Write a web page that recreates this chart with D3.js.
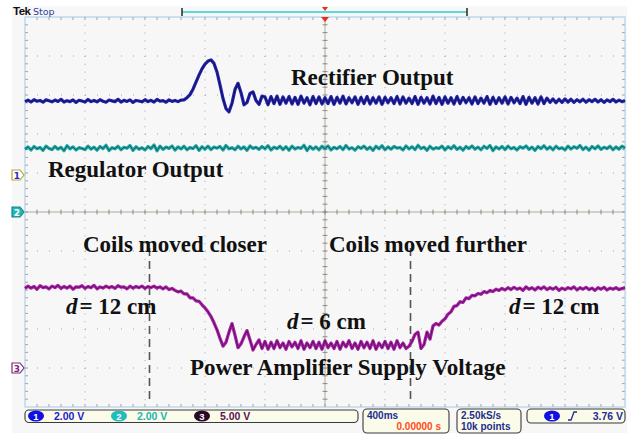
<!DOCTYPE html>
<html>
<head>
<meta charset="utf-8">
<script src="https://cdn.jsdelivr.net/npm/d3@7"></script>
<style>
  html, body { margin: 0; padding: 0; background: #fff; }
  svg { display: block; }
</style>
</head>
<body>
<div id="scope"></div>
<script>

// sweep: 400 ms/div, 10 div, trigger at centre, one sample every 20 ms
const tStart = -2;
const tStep = 0.02;

// channel 1 - rectifier output (V)
const ch1Values = [
    3.66, 3.74, 3.64, 3.76, 3.68, 3.72, 3.63, 3.75, 3.70, 3.65,
    3.74, 3.67, 3.78, 3.64, 3.71, 3.66, 3.75, 3.62, 3.73, 3.69,
    3.64, 3.77, 3.66, 3.72, 3.65, 3.76, 3.68, 3.63, 3.74, 3.70,
    3.66, 3.78, 3.64, 3.73, 3.67, 3.75, 3.62, 3.72, 3.69, 3.65,
    3.76, 3.66, 3.73, 3.64, 3.77, 3.68, 3.71, 3.63, 3.75, 3.67,
    3.72, 3.66, 3.74, 3.75, 3.86, 4.02, 4.30, 4.66, 5.02, 5.34,
    5.58, 5.74, 5.80, 5.62, 5.18, 4.52, 3.82, 3.30, 3.14, 3.58,
    4.28, 4.60, 4.12, 3.50, 3.62, 4.08, 4.16, 3.72, 3.52, 3.94,
    3.90, 3.50, 3.92, 3.56, 3.94, 3.52, 3.90, 3.58, 3.92, 3.54,
    3.88, 3.52, 3.94, 3.58, 3.86, 3.50, 3.92, 3.56, 3.90, 3.54,
    3.86, 3.56, 3.92, 3.52, 3.88, 3.58, 3.94, 3.54, 3.86, 3.60,
    3.90, 3.52, 3.88, 3.56, 3.92, 3.54, 3.86, 3.58, 3.90, 3.52,
    3.88, 3.60, 3.86, 3.56, 3.92, 3.54, 3.90, 3.58, 3.84, 3.56,
    3.92, 3.52, 3.88, 3.58, 3.86, 3.54, 3.94, 3.56, 3.88, 3.52,
    3.90, 3.58, 3.86, 3.54, 3.92, 3.56, 3.88, 3.60, 3.86, 3.54,
    3.90, 3.56, 3.84, 3.58, 3.92, 3.52, 3.88, 3.56, 3.86, 3.58,
    3.90, 3.54, 3.88, 3.60, 3.84, 3.56, 3.92, 3.52, 3.88, 3.58,
    3.86, 3.54, 3.90, 3.56, 3.84, 3.62, 3.80, 3.60, 3.78, 3.62,
    3.80, 3.64, 3.78, 3.62, 3.76, 3.65, 3.78, 3.63, 3.76, 3.66,
    3.78, 3.64, 3.76, 3.62, 3.75, 3.66, 3.78, 3.64, 3.74, 3.66, 3.72
];

// channel 2 - regulator output (V)
const ch2Values = [
    3.22, 3.34, 3.18, 3.36, 3.24, 3.31, 3.16, 3.38, 3.26, 3.20,
    3.36, 3.22, 3.32, 3.14, 3.40, 3.24, 3.34, 3.18, 3.30, 3.26,
    3.20, 3.38, 3.22, 3.33, 3.17, 3.36, 3.25, 3.42, 3.15, 3.30,
    3.24, 3.37, 3.19, 3.32, 3.27, 3.41, 3.16, 3.35, 3.22, 3.30,
    3.18, 3.36, 3.25, 3.44, 3.14, 3.38, 3.21, 3.33, 3.26, 3.39,
    3.17, 3.34, 3.23, 3.37, 3.19, 3.31, 3.25, 3.40, 3.16, 3.35,
    3.22, 3.38, 3.20, 3.33, 3.27, 3.36, 3.18, 3.41, 3.24, 3.30,
    3.19, 3.37, 3.23, 3.34, 3.16, 3.39, 3.26, 3.32, 3.21, 3.36,
    3.24, 3.40, 3.18, 3.33, 3.25, 3.37, 3.20, 3.35, 3.17, 3.38,
    3.23, 3.31, 3.26, 3.42, 3.15, 3.36, 3.22, 3.34, 3.19, 3.37,
    3.25, 3.39, 3.18, 3.32, 3.24, 3.36, 3.20, 3.41, 3.23, 3.30,
    3.17, 3.35, 3.26, 3.38, 3.21, 3.33, 3.16, 3.37, 3.24, 3.40,
    3.19, 3.34, 3.22, 3.36, 3.27, 3.31, 3.18, 3.39, 3.23, 3.35,
    3.20, 3.42, 3.25, 3.33, 3.16, 3.37, 3.22, 3.30, 3.26, 3.38,
    3.18, 3.35, 3.24, 3.40, 3.21, 3.32, 3.17, 3.36, 3.25, 3.39,
    3.22, 3.33, 3.19, 3.37, 3.26, 3.41, 3.15, 3.34, 3.23, 3.36,
    3.20, 3.38, 3.24, 3.31, 3.18, 3.35, 3.27, 3.39, 3.21, 3.33,
    3.16, 3.36, 3.25, 3.40, 3.22, 3.34, 3.19, 3.37, 3.24, 3.30,
    3.18, 3.38, 3.23, 3.35, 3.26, 3.41, 3.20, 3.33, 3.17, 3.36,
    3.24, 3.39, 3.21, 3.32, 3.25, 3.37, 3.19, 3.34, 3.22, 3.38, 3.28
];

// channel 3 - power amplifier supply voltage (V)
const ch3Values = [
    10.20, 10.50, 10.25, 10.45, 10.10, 10.55, 10.30, 10.40, 10.15, 10.50,
    10.30, 10.60, 10.20, 10.45, 10.25, 10.50, 10.10, 10.40, 10.35, 10.55,
    10.20, 10.45, 10.30, 10.60, 10.15, 10.40, 10.25, 10.50, 10.30, 10.45,
    10.20, 10.55, 10.35, 10.40, 10.15, 10.50, 10.25, 10.45, 10.30, 10.50,
    10.20, 10.45, 10.30, 10.50, 10.25, 10.40, 10.15, 10.40, 10.05, 10.20,
    9.95, 9.75, 9.85, 9.50, 9.50, 9.00, 9.00, 8.60, 8.55, 8.10,
    7.70, 7.20, 6.60, 5.80, 4.90, 3.80, 2.80, 3.30, 4.60, 5.70,
    4.20, 2.60, 3.10, 4.00, 4.80, 3.60, 2.30, 3.00, 3.60, 2.50,
    3.40, 2.40, 3.30, 2.50, 3.50, 2.60, 3.20, 2.40, 3.40, 2.70,
    3.30, 2.50, 3.50, 2.40, 3.20, 2.60, 3.40, 2.50, 3.30, 2.40,
    3.50, 2.60, 3.20, 2.50, 3.40, 2.40, 3.30, 2.70, 3.50, 2.50,
    3.20, 2.40, 3.40, 2.60, 3.30, 2.50, 3.50, 2.40, 3.20, 2.60,
    3.40, 2.50, 3.30, 2.40, 3.50, 2.60, 3.20, 2.50, 2.80, 3.40,
    4.30, 4.60, 2.50, 3.00, 4.60, 3.70, 5.40, 5.70, 5.50, 6.00,
    6.30, 6.90, 7.20, 7.90, 8.00, 8.50, 8.40, 9.00, 8.90, 9.30,
    9.25, 9.55, 9.45, 9.80, 9.65, 9.95, 9.80, 10.10, 9.95, 10.20,
    10.00, 10.30, 10.05, 10.35, 10.10, 10.25, 9.95, 10.40, 10.10, 10.30,
    10.00, 10.35, 10.15, 10.40, 10.05, 10.30, 10.10, 10.35, 9.95, 10.25,
    10.05, 10.30, 10.15, 10.40, 10.00, 10.30, 10.10, 10.35, 10.05, 10.25,
    9.95, 10.30, 10.10, 10.35, 10.00, 10.25, 10.10, 10.30, 10.05, 10.20, 10.30
];

// channel settings (V/div, ground marker position in div from centre)
const channelNames = ["1", "2", "3"];
const voltsPerDiv = [2, 2, 5];
const groundDiv = [1, 0, -4];

// times of the two dashed markers (s)
const eventTimes = [-1.17, 0.57];

const W = 627, H = 435;
const plotLeft = 25, plotRight = 625, plotTop = 17, plotBottom = 407;

const svg = d3.select("#scope")
    .append("svg")
    .attr("width", W)
    .attr("height", H);

svg.append("rect").attr("width", W).attr("height", H).attr("fill", "#ffffff");
svg.append("rect")
    .attr("x", 12).attr("y", 6).attr("width", W - 12).attr("height", 427)
    .attr("fill", "#f7f7f7");

const x = d3.scaleLinear().domain([-2, 2]).range([plotLeft, plotRight]);
const yDiv = d3.scaleLinear().domain([-5, 5]).range([plotBottom, plotTop]);
const divW = (plotRight - plotLeft) / 10;
const divH = (plotBottom - plotTop) / 10;

// GRATICULE
const grid = svg.append("g");

grid.selectAll("line.vgrid")
    .data(d3.range(1, 10).filter(d => d !== 5))
    .enter().append("line")
    .attr("x1", d => plotLeft + d * divW).attr("x2", d => plotLeft + d * divW)
    .attr("y1", plotTop).attr("y2", plotBottom)
    .attr("stroke", "#a4a4a4")
    .attr("stroke-width", 1)
    .attr("stroke-dasharray", "1," + (divH / 5 - 1));

grid.selectAll("line.hgrid")
    .data(d3.range(-4, 5).filter(d => d !== 0))
    .enter().append("line")
    .attr("x1", plotLeft).attr("x2", plotRight)
    .attr("y1", d => yDiv(d)).attr("y2", d => yDiv(d))
    .attr("stroke", "#a4a4a4")
    .attr("stroke-width", 1)
    .attr("stroke-dasharray", "1," + (divW / 5 - 1));

// centre cross
grid.append("line")
    .attr("x1", x(0)).attr("x2", x(0)).attr("y1", plotTop).attr("y2", plotBottom)
    .attr("stroke", "#9a9486").attr("stroke-width", 0.8);
grid.append("line")
    .attr("x1", plotLeft).attr("x2", plotRight).attr("y1", yDiv(0)).attr("y2", yDiv(0))
    .attr("stroke", "#9a9486").attr("stroke-width", 0.8);

const minorX = d3.range(1, 50);
const minorY = d3.range(1, 50);

grid.selectAll("line.cx")
    .data(minorY)
    .enter().append("line")
    .attr("x1", x(0) - 2.5).attr("x2", x(0) + 2.5)
    .attr("y1", d => plotTop + d * divH / 5).attr("y2", d => plotTop + d * divH / 5)
    .attr("stroke", "#7a7466").attr("stroke-width", 0.8);

grid.selectAll("line.cy")
    .data(minorX)
    .enter().append("line")
    .attr("x1", d => plotLeft + d * divW / 5).attr("x2", d => plotLeft + d * divW / 5)
    .attr("y1", yDiv(0) - 2.5).attr("y2", yDiv(0) + 2.5)
    .attr("stroke", "#7a7466").attr("stroke-width", 0.8);

// edge ticks
grid.selectAll("line.et")
    .data(minorX)
    .enter().append("line")
    .attr("x1", d => plotLeft + d * divW / 5).attr("x2", d => plotLeft + d * divW / 5)
    .attr("y1", plotTop).attr("y2", plotTop + 3)
    .attr("stroke", "#8a8a8a").attr("stroke-width", 0.8);
grid.selectAll("line.eb")
    .data(minorX)
    .enter().append("line")
    .attr("x1", d => plotLeft + d * divW / 5).attr("x2", d => plotLeft + d * divW / 5)
    .attr("y1", plotBottom - 3).attr("y2", plotBottom)
    .attr("stroke", "#8a8a8a").attr("stroke-width", 0.8);
grid.selectAll("line.el")
    .data(minorY)
    .enter().append("line")
    .attr("x1", plotLeft).attr("x2", plotLeft + 3)
    .attr("y1", d => plotTop + d * divH / 5).attr("y2", d => plotTop + d * divH / 5)
    .attr("stroke", "#8a8a8a").attr("stroke-width", 0.8);
grid.selectAll("line.er")
    .data(minorY)
    .enter().append("line")
    .attr("x1", plotRight - 3).attr("x2", plotRight)
    .attr("y1", d => plotTop + d * divH / 5).attr("y2", d => plotTop + d * divH / 5)
    .attr("stroke", "#8a8a8a").attr("stroke-width", 0.8);

grid.append("rect")
    .attr("x", plotLeft).attr("y", plotTop)
    .attr("width", plotRight - plotLeft).attr("height", plotBottom - plotTop)
    .attr("fill", "none")
    .attr("stroke", "#a6c8e6")
    .attr("stroke-width", 1);

// DASHED EVENT MARKERS
svg.selectAll("line.event")
    .data(eventTimes)
    .enter().append("line")
    .attr("x1", d => x(d)).attr("x2", d => x(d))
    .attr("y1", 248).attr("y2", 399)
    .attr("stroke", "#555555")
    .attr("stroke-width", 1.6)
    .attr("stroke-dasharray", "8,5");

// TRACES
const traceStyle = [
    { color: "#2424a8", dark: "#0a0a58" },
    { color: "#22a8a8", dark: "#0b4c4c" },
    { color: "#a822a8", dark: "#4a0a4a" }
];
const allValues = [ch1Values, ch2Values, ch3Values];

allValues.forEach(function (vals, c) {
    const line = d3.line()
        .x((d, i) => x(tStart + i * tStep))
        .y(d => yDiv(groundDiv[c] + d / voltsPerDiv[c]));
    svg.append("path")
        .datum(vals)
        .attr("d", line)
        .attr("fill", "none")
        .attr("stroke", traceStyle[c].color)
        .attr("stroke-width", 3.2)
        .attr("stroke-linejoin", "round");
    svg.append("path")
        .datum(vals)
        .attr("d", line)
        .attr("fill", "none")
        .attr("stroke", traceStyle[c].dark)
        .attr("stroke-width", 0.9)
        .attr("opacity", 0.85);
});

// ANNOTATIONS
const serif = "'Liberation Serif', 'Times New Roman', serif";

function label(txt, x0, y0) {
    svg.append("text")
        .attr("x", x0).attr("y", y0)
        .attr("font-family", serif)
        .attr("font-weight", "bold")
        .attr("font-size", 23)
        .attr("fill", "#111")
        .text(txt);
}
label("Rectifier Output", 291, 85);
label("Regulator Output", 48, 177);
label("Coils moved closer", 83, 252);
label("Coils moved further", 329, 252);
label("Power Amplifier Supply Voltage", 190, 375);

function dLabel(num, x0, y0) {
    const t = svg.append("text")
        .attr("x", x0).attr("y", y0)
        .attr("font-family", serif)
        .attr("font-weight", "bold")
        .attr("font-size", 23)
        .attr("fill", "#111");
    t.append("tspan").attr("font-style", "italic").text("d");
    t.append("tspan").attr("dx", 2).text("= " + num + " cm");
}
dLabel("12", 66, 314);
dLabel("6", 287, 329);
dLabel("12", 509, 314);

// TOP BAR
svg.append("text").attr("x", 13).attr("y", 15)
    .attr("font-family", "'Liberation Sans', Arial, sans-serif")
    .attr("font-weight", "bold").attr("font-size", 11.5).attr("fill", "#111")
    .attr("letter-spacing", -0.5)
    .text("Tek");
svg.append("text").attr("x", 33).attr("y", 15)
    .attr("font-family", "'DejaVu Sans', sans-serif")
    .attr("font-size", 9.5).attr("fill", "#2a3ea0")
    .text("Stop");

svg.append("line")
    .attr("x1", 182).attr("x2", 467).attr("y1", 12).attr("y2", 12)
    .attr("stroke", "#22d2d2").attr("stroke-width", 1.6);
svg.selectAll("line.bracket")
    .data([182, 467])
    .enter().append("line")
    .attr("x1", d => d).attr("x2", d => d).attr("y1", 8).attr("y2", 16)
    .attr("stroke", "#333").attr("stroke-width", 1.6);

svg.append("path")
    .attr("d", `M${x(0) - 3},7 L${x(0) + 3},7 L${x(0)},11 Z`)
    .attr("fill", "#ee2a1a");
svg.append("path")
    .attr("d", `M${x(0) - 4},${plotTop} L${x(0) + 4},${plotTop} L${x(0)},${plotTop + 5} Z`)
    .attr("fill", "#ee2a1a");

// CHANNEL GROUND MARKERS
const markerStyle = [
    { fill: "#ffffff", stroke: "#b8a830", text: "#2a2ad0" },
    { fill: "#22b6b6", stroke: "#1a8a8a", text: "#ffffff" },
    { fill: "#ffffff", stroke: "#7a2a7a", text: "#7a2a7a" }
];
channelNames.forEach(function (name, c) {
    const yy = yDiv(groundDiv[c]) + (c === 0 ? 2 : 0);
    svg.append("path")
        .attr("d", `M12,${yy - 5} L20,${yy - 5} L24,${yy} L20,${yy + 5} L12,${yy + 5} Z`)
        .attr("fill", markerStyle[c].fill)
        .attr("stroke", markerStyle[c].stroke)
        .attr("stroke-width", 1.2);
    svg.append("text")
        .attr("x", 17).attr("y", yy + 3.5)
        .attr("text-anchor", "middle")
        .attr("font-family", "'DejaVu Sans', sans-serif")
        .attr("font-weight", "bold")
        .attr("font-size", 9)
        .attr("fill", markerStyle[c].text)
        .text(name);
});

// STATUS BAR
const sans = "'Liberation Sans', Arial, sans-serif";
const boxes = [
    { x: 25, y: 410, w: 333, h: 12.5 },
    { x: 363, y: 409, w: 86, h: 24 },
    { x: 457, y: 409, w: 64, h: 24 },
    { x: 527, y: 409, w: 98, h: 14 }
];
svg.selectAll("rect.box")
    .data(boxes)
    .enter().append("rect")
    .attr("x", d => d.x).attr("y", d => d.y)
    .attr("width", d => d.w).attr("height", d => d.h)
    .attr("rx", 4)
    .attr("fill", "#fbfbe9")
    .attr("stroke", "#3a3a3a")
    .attr("stroke-width", 1.1);

const chipColor = ["#1010e0", "#22bcbc", "#2a0a24"];
const scaleColor = ["#1a1ad0", "#22b4b4", "#5a1458"];
const chipX = [36, 119, 202];
const scaleTextX = [54, 137, 220];

channelNames.forEach(function (name, c) {
    svg.append("ellipse")
        .attr("cx", chipX[c]).attr("cy", 416)
        .attr("rx", 8).attr("ry", 5.6)
        .attr("fill", chipColor[c]);
    svg.append("text")
        .attr("x", chipX[c]).attr("y", 419.5)
        .attr("text-anchor", "middle")
        .attr("font-family", sans).attr("font-weight", "bold").attr("font-size", 9.5)
        .attr("fill", "#fff").text(name);
    svg.append("text")
        .attr("x", scaleTextX[c]).attr("y", 420)
        .attr("font-family", sans).attr("font-weight", "bold").attr("font-size", 10.5)
        .attr("fill", scaleColor[c])
        .text(voltsPerDiv[c].toFixed(2) + " V");
});

function statusText(txt, x0, y0, col, anchor, size) {
    svg.append("text")
        .attr("x", x0).attr("y", y0)
        .attr("text-anchor", anchor || "start")
        .attr("font-family", sans).attr("font-weight", "bold").attr("font-size", size || 10.5)
        .attr("fill", col)
        .text(txt);
}
statusText("400ms", 367, 418.5, "#1e2e90", "start", 10);
statusText("0.00000 s", 441, 430, "#ff4a1a", "end", 10);
statusText("2.50kS/s", 461, 418.5, "#1e2e90", "start", 10);
statusText("10k points", 461, 430, "#1e2e90", "start", 10);

svg.append("ellipse")
    .attr("cx", 552).attr("cy", 416).attr("rx", 8).attr("ry", 5.6)
    .attr("fill", "#1010e0");
svg.append("text")
    .attr("x", 552).attr("y", 419.5).attr("text-anchor", "middle")
    .attr("font-family", sans).attr("font-weight", "bold").attr("font-size", 9.5)
    .attr("fill", "#fff").text("1");
svg.append("path")
    .attr("d", "M568,420 L571,420 L574,412 L577,412")
    .attr("fill", "none").attr("stroke", "#1e2e90").attr("stroke-width", 1.3);
statusText("3.76 V", 623, 419.5, "#1e2e90", "end");

</script>
</body>
</html>
